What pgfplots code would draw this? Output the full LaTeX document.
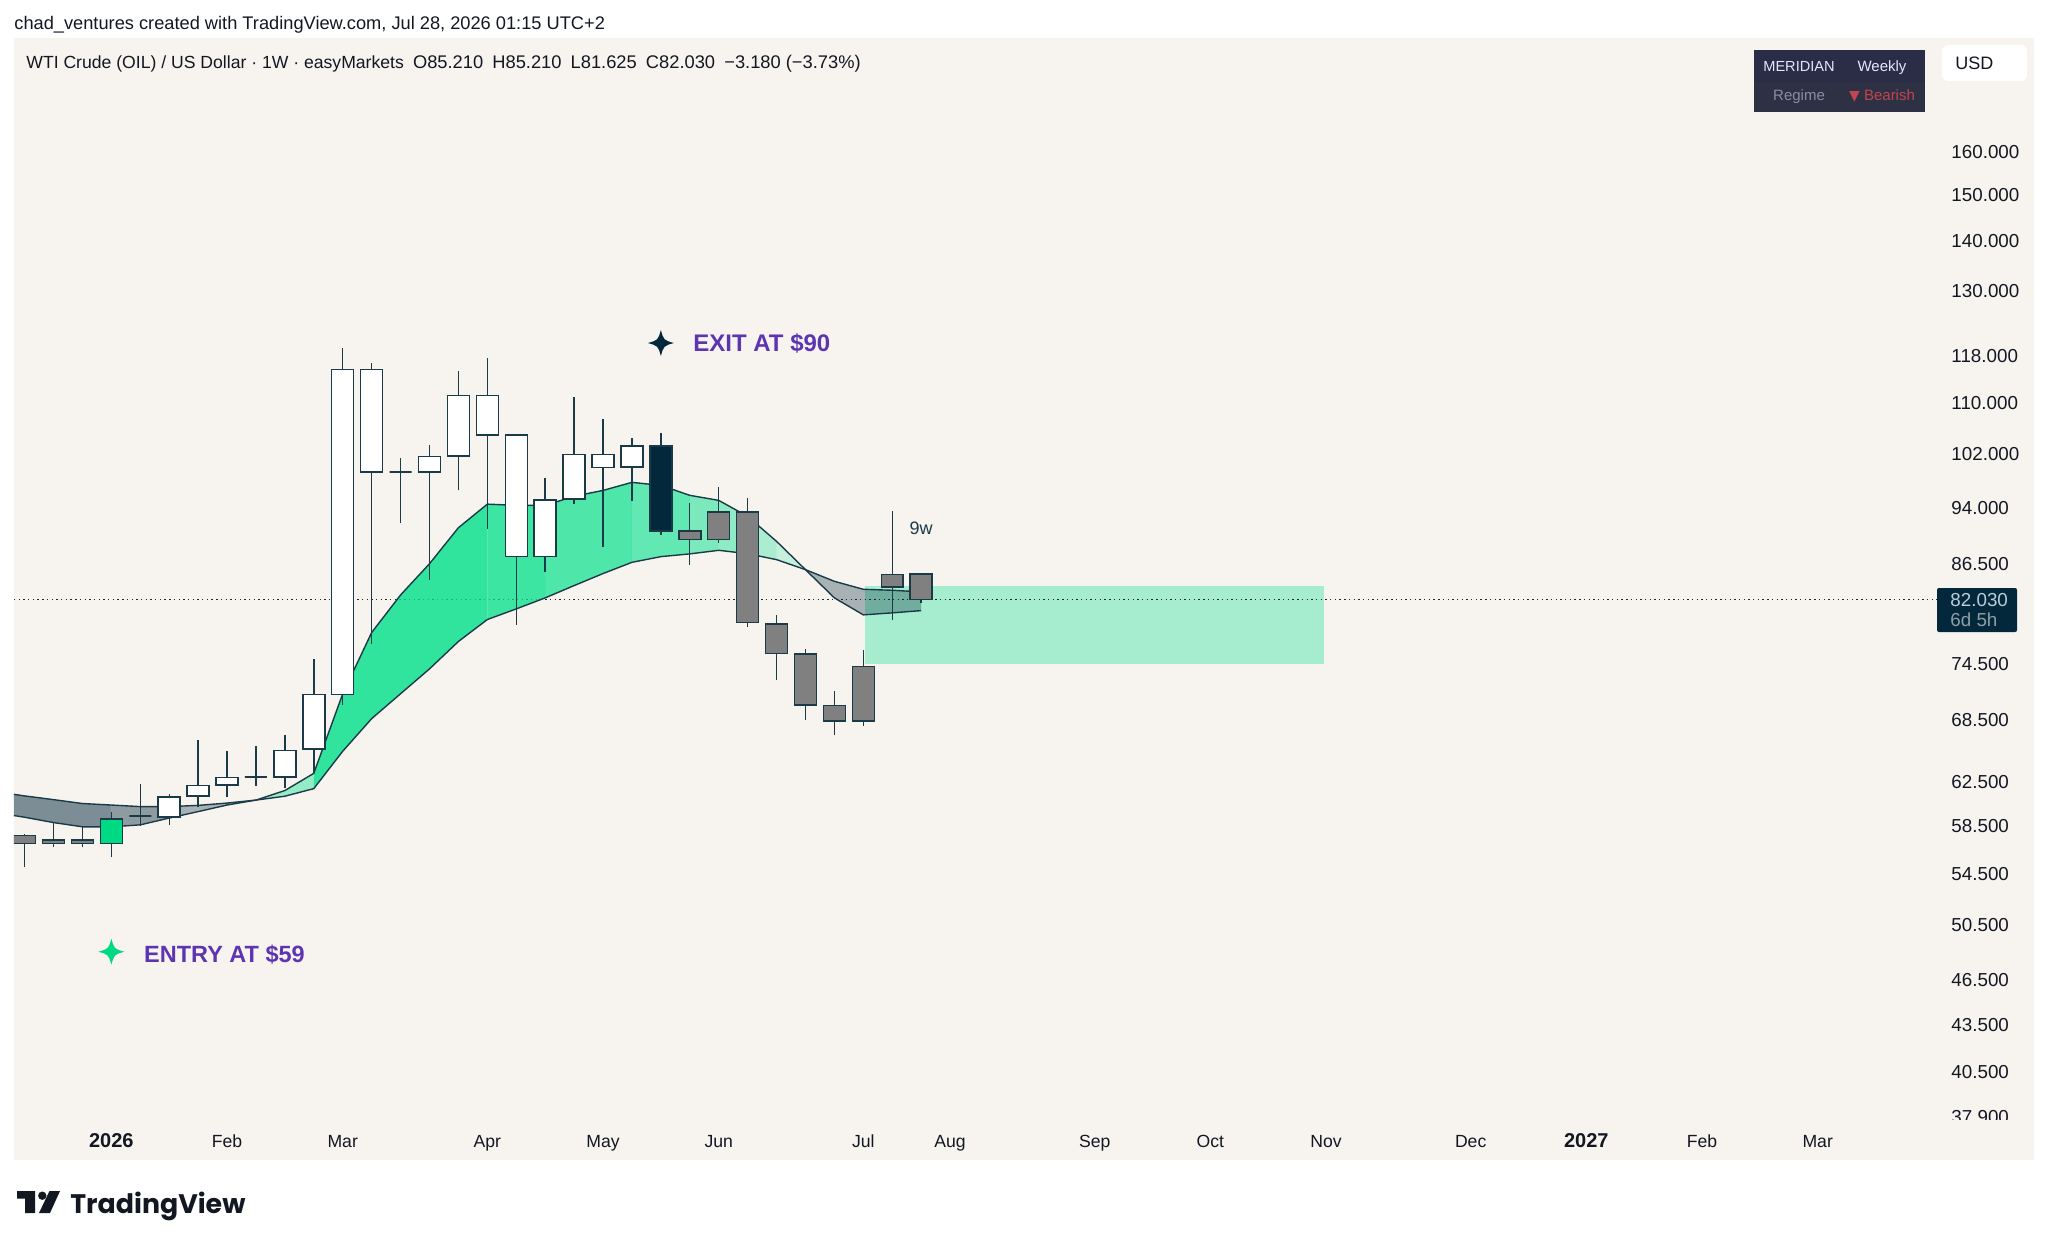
\documentclass[border=0pt]{standalone}
\usepackage{fontspec}
\usepackage{pgfplots}
\usepackage{pgfplotstable}
\pgfplotsset{compat=1.18}
\setmainfont{Liberation Sans}
\newfontfamily\logofont{Poppins}

% 1 reference pixel = 0.5pt
\newcommand{\px}[2]{(#1*0.5pt,-#2*0.5pt)}
\newcommand{\fs}[1]{\fontsize{#1pt}{#1pt}\selectfont}

\definecolor{panel}{HTML}{F7F4F0}
\definecolor{ink}{HTML}{131722}
\definecolor{navy}{HTML}{04283B}
\definecolor{edge}{HTML}{1B3A48}
\definecolor{tvgreen}{HTML}{00D984}
\definecolor{ribbongreen}{HTML}{00E08A}
\definecolor{stale}{HTML}{808080}
\definecolor{purple}{HTML}{5E35B1}
\definecolor{boxbg}{HTML}{2A2D45}
\definecolor{boxrow}{HTML}{2E3044}
\definecolor{bearish}{HTML}{C2454F}
\definecolor{regime}{HTML}{8C8CA3}

\pgfdeclareplotmark{spark}{%
  \pgfpathmoveto{\pgfpoint{0pt}{\pgfplotmarksize}}%
  \pgfpathcurveto{\pgfpoint{.22\pgfplotmarksize}{.22\pgfplotmarksize}}{\pgfpoint{.22\pgfplotmarksize}{.22\pgfplotmarksize}}{\pgfpoint{\pgfplotmarksize}{0pt}}%
  \pgfpathcurveto{\pgfpoint{.22\pgfplotmarksize}{-.22\pgfplotmarksize}}{\pgfpoint{.22\pgfplotmarksize}{-.22\pgfplotmarksize}}{\pgfpoint{0pt}{-\pgfplotmarksize}}%
  \pgfpathcurveto{\pgfpoint{-.22\pgfplotmarksize}{-.22\pgfplotmarksize}}{\pgfpoint{-.22\pgfplotmarksize}{-.22\pgfplotmarksize}}{\pgfpoint{-\pgfplotmarksize}{0pt}}%
  \pgfpathcurveto{\pgfpoint{-.22\pgfplotmarksize}{.22\pgfplotmarksize}}{\pgfpoint{-.22\pgfplotmarksize}{.22\pgfplotmarksize}}{\pgfpoint{0pt}{\pgfplotmarksize}}%
  \pgfpathclose\pgfusepathqfill}

% x low bodylow bodyhigh high fill
\newcommand{\candle}[6]{%
  \pgfmathsetmacro{\xa}{#1-0.38}\pgfmathsetmacro{\xb}{#1+0.38}%
  \addplot[draw=edge,line width=0.7pt] coordinates {(#1,#2) (#1,#5)};
  \addplot[draw=edge,line width=0.75pt,fill=#6] coordinates {(\xa,#3) (\xb,#3) (\xb,#4) (\xa,#4)} -- cycle;
}

% moving average ribbon: fast line a, slow line b
\pgfplotstableread{
x a b
-1 61.58 59.69
0 61.20 59.28
1 60.86 58.81
2 60.51 58.44
3 60.37 58.44
4 60.23 58.61
5 60.23 59.21
6 60.34 59.78
7 60.55 60.37
8 60.82 60.82
9 61.69 61.17
10 63.30 61.87
11 71.28 65.42
12 78.10 68.68
13 82.60 71.28
14 86.54 73.98
15 91.32 77.07
16 94.59 79.64
17 94.42 80.90
18 94.42 82.24
19 95.70 83.76
20 96.55 85.28
21 97.71 86.72
22 97.28 87.46
23 95.84 87.82
24 95.12 88.29
25 92.88 87.85
26 89.48 87.07
27 85.78 85.78
28 82.24 84.30
29 80.18 83.30
30 80.42 83.18
31 80.69 82.98
}\ribbon

\begin{document}
\begin{tikzpicture}
\useasboundingbox \px{0}{0} rectangle \px{2048}{1246};
\fill[panel] \px{14}{38} rectangle \px{2034}{1160};

\begin{axis}[
  at={(7pt,-558.5pt)}, anchor=south west,
  scale only axis, width=962pt, height=539pt,
  ymode=log,
  xmin=-0.3665, xmax=66.16, ymin=37.9, ymax=189.4,
  axis line style={draw=none},
  major tick length=0pt, minor tick length=0pt,
  log ticks with fixed point,
  ytick={160,150,140,130,118,110,102,94,86.5,74.5,68.5,62.5,58.5,54.5,50.5,46.5,43.5,40.5,37.9},
  yticklabels={160.000,150.000,140.000,130.000,118.000,110.000,102.000,94.000,86.500,74.500,68.500,62.500,58.500,54.500,50.500,46.500,43.500,40.500,37.900},
  yminorticks=false,
  yticklabel pos=right,
  yticklabel style={font=\fs{9.4},text=ink,anchor=west,inner sep=0pt,xshift=6.5pt},
  xtick={3,7,11,16,20,24,29,32,37,41,45,50,54,58,62},
  xticklabels={\fs{10}\bfseries 2026,Feb,Mar,Apr,May,Jun,Jul,Aug,Sep,Oct,Nov,Dec,\fs{10}\bfseries 2027,Feb,Mar},
  xticklabel style={font=\fs{8.8},text=ink,anchor=base,yshift=-15.5pt},
]
% target zone and last price line
\addplot[draw=none,fill=ribbongreen,fill opacity=0.33] coordinates {(29.06,74.53) (44.93,74.53) (44.93,83.76) (29.06,83.76)} -- cycle;
\addplot[color=black!85,line width=0.6pt,dash pattern=on 0.7pt off 1.65pt] coordinates {(-0.3665,82.03) (66.16,82.03)};

% ribbon pieces, one shade per stretch
\addplot[draw=none,fill=navy,fill opacity=0.5] coordinates {(-1,61.58) (0,61.20) (1,60.86) (2,60.51) (3,60.37) (3,58.44) (2,58.44) (1,58.81) (0,59.28) (-1,59.69)} -- cycle;
\addplot[draw=none,fill=navy,fill opacity=0.43] coordinates {(3,60.37) (4,60.23) (5,60.23) (5,59.21) (4,58.61) (3,58.44)} -- cycle;
\addplot[draw=none,fill=navy,fill opacity=0.32] coordinates {(5,60.23) (6,60.34) (7,60.55) (8,60.82) (7,60.37) (6,59.78) (5,59.21)} -- cycle;
\addplot[draw=none,fill=ribbongreen,fill opacity=0.4] coordinates {(8,60.82) (9,61.69) (10,63.30) (10,61.87) (9,61.17)} -- cycle;
\addplot[draw=none,fill=ribbongreen,fill opacity=0.8] coordinates {(10,63.30) (11,71.28) (12,78.10) (13,82.60) (14,86.54) (15,91.32) (16,94.59) (16,79.64) (15,77.07) (14,73.98) (13,71.28) (12,68.68) (11,65.42) (10,61.87)} -- cycle;
\addplot[draw=none,fill=ribbongreen,fill opacity=0.75] coordinates {(16,94.59) (17,94.42) (18,94.42) (18,82.24) (17,80.90) (16,79.64)} -- cycle;
\addplot[draw=none,fill=ribbongreen,fill opacity=0.68] coordinates {(18,94.42) (19,95.70) (20,96.55) (21,97.71) (21,86.72) (20,85.28) (19,83.76) (18,82.24)} -- cycle;
\addplot[draw=none,fill=ribbongreen,fill opacity=0.6] coordinates {(21,97.71) (22,97.28) (23,95.84) (23,87.82) (22,87.46) (21,86.72)} -- cycle;
\addplot[draw=none,fill=ribbongreen,fill opacity=0.5] coordinates {(23,95.84) (24,95.12) (24,88.29) (23,87.82)} -- cycle;
\addplot[draw=none,fill=ribbongreen,fill opacity=0.42] coordinates {(24,95.12) (25,92.88) (25,87.85) (24,88.29)} -- cycle;
\addplot[draw=none,fill=ribbongreen,fill opacity=0.3] coordinates {(25,92.88) (26,89.48) (26,87.07) (25,87.85)} -- cycle;
\addplot[draw=none,fill=ribbongreen,fill opacity=0.2] coordinates {(26,89.48) (27,85.78) (26,87.07)} -- cycle;
\addplot[draw=none,fill=navy,fill opacity=0.32] coordinates {(27,85.78) (28,82.24) (29,80.18) (30,80.42) (31,80.69) (31,82.98) (30,83.18) (29,83.30) (28,84.30)} -- cycle;
\addplot[edge,line width=0.7pt] table[x=x,y=a] {\ribbon};
\addplot[edge,line width=0.7pt] table[x=x,y=b] {\ribbon};

\candle{0}{55.04}{57.02}{57.67}{57.78}{stale}
\candle{1}{56.73}{56.99}{57.28}{58.87}{stale}
\candle{2}{56.67}{56.99}{57.28}{58.44}{stale}
\candle{3}{55.83}{57.02}{59.14}{59.78}{tvgreen}
\candle{4}{58.54}{59.38}{59.38}{62.33}{white}
\candle{5}{58.57}{59.31}{61.10}{61.39}{white}
\candle{6}{60.17}{61.20}{62.15}{66.48}{white}
\candle{7}{61.14}{62.22}{62.90}{65.47}{white}
\candle{8}{62.15}{62.97}{62.97}{65.89}{white}
\candle{9}{61.91}{62.94}{65.51}{67.06}{white}
\candle{10}{63.33}{65.62}{71.20}{75.12}{white}
\candle{11}{70.07}{71.20}{115.65}{119.41}{white}
\candle{12}{76.77}{99.26}{115.60}{116.72}{white}
\candle{13}{92.00}{99.26}{99.26}{101.26}{white}
\candle{14}{84.50}{99.26}{101.55}{103.30}{white}
\candle{15}{96.57}{101.61}{111.25}{115.39}{white}
\candle{16}{91.11}{104.84}{111.25}{117.57}{white}
\candle{17}{79.04}{87.49}{104.84}{105.03}{white}
\candle{18}{85.47}{87.49}{95.20}{98.40}{white}
\candle{19}{94.56}{95.31}{101.90}{110.94}{white}
\candle{20}{88.70}{99.94}{101.90}{107.45}{white}
\candle{21}{95.10}{100.00}{103.18}{104.37}{white}
\candle{22}{90.32}{90.85}{103.18}{105.20}{navy}
\candle{23}{86.35}{89.71}{90.90}{94.77}{stale}
\candle{24}{89.27}{89.71}{93.49}{97.09}{stale}
\candle{25}{78.76}{79.27}{93.49}{95.47}{stale}
\candle{26}{72.80}{75.68}{79.11}{80.21}{stale}
\candle{27}{68.58}{70.07}{75.65}{76.21}{stale}
\candle{28}{67.07}{68.45}{70.04}{71.62}{stale}
\candle{29}{67.91}{68.45}{74.26}{76.13}{stale}
\candle{30}{79.62}{83.60}{85.18}{93.58}{stale}
\candle{31}{81.625}{82.03}{85.21}{85.21}{stale}

% entry and exit markers
\addplot[only marks,mark=spark,mark size=6.5pt,navy] coordinates {(22,120.3)};
\addplot[only marks,mark=spark,mark size=6.5pt,tvgreen] coordinates {(3,48.5)};
\node[anchor=west,inner sep=0pt,font=\fs{12}\bfseries,text=purple] at (axis cs:23.11,120.3) {EXIT AT \$90};
\node[anchor=west,inner sep=0pt,font=\fs{11.75}\bfseries,text=purple] at (axis cs:4.12,48.31) {ENTRY AT \$59};
\node[font=\fs{9},text=edge] at (axis cs:31,91.2) {9w};
\end{axis}

% bottom of the price scale is cut by the time axis
\fill[panel] \px{1940}{1120} rectangle \px{2030}{1132};

% header
\node[anchor=west,inner sep=0pt,font=\fs{9.12},text=ink] at \px{14}{24.5} {chad\_ventures created with TradingView.com, Jul 28, 2026 01:15 UTC+2};
\node[anchor=west,inner sep=0pt,font=\fs{8.8},text=ink] at \px{26}{63.5} {WTI Crude (OIL) / US Dollar · 1W · easyMarkets{\fs{9.15}\enspace O85.210\enspace H85.210\enspace L81.625\enspace C82.030\enspace −3.180 (−3.73\%)}};

% regime table
\fill[boxbg] \px{1754}{50} rectangle \px{1925}{112};
\fill[boxrow] \px{1754}{82} rectangle \px{1925}{112};
\node[anchor=base,inner sep=0pt,font=\fs{7.3},text=white!90!blue] at \px{1799}{72} {MERIDIAN};
\node[anchor=base,inner sep=0pt,font=\fs{7.5},text=white!90!blue] at \px{1882}{72} {Weekly};
\node[anchor=base,inner sep=0pt,font=\fs{7.5},text=regime] at \px{1799}{100.7} {Regime};
\node[anchor=base,inner sep=0pt,font=\fs{7.5},text=bearish] at \px{1882}{100.7} {{\fontspec{DejaVu Sans}\fs{7}▼} Bearish};

% currency button
\fill[white,rounded corners=3pt] \px{1942}{45} rectangle \px{2027}{81};
\node[anchor=west,inner sep=0pt,font=\fs{9},text=ink] at \px{1955}{63} {USD};

% last price tag
\fill[navy,rounded corners=1pt] \px{1937}{588} rectangle \px{2017}{632};
\node[anchor=west,inner sep=0pt,font=\fs{9.4},text=cyan!15!white!80!navy] at \px{1950}{600} {82.030};
\node[anchor=west,inner sep=0pt,font=\fs{9.4},text=white!55!navy] at \px{1950}{620} {6d 5h};

% logo
\fill[ink] \px{17}{1191} -- \px{35}{1191} -- \px{35}{1213} -- \px{25}{1213} -- \px{25}{1198.5} -- \px{17}{1198.5} -- cycle;
\fill[ink] \px{42.3}{1195.7} circle (2.1pt);
\fill[ink] \px{60}{1191} -- \px{50}{1213} -- \px{39}{1213} -- \px{49.5}{1191} -- cycle;
\node[anchor=base west,inner sep=0pt,font=\logofont\fs{13.4}\bfseries,text=ink] at \px{70}{1213} {TradingView};
\end{tikzpicture}
\end{document}
